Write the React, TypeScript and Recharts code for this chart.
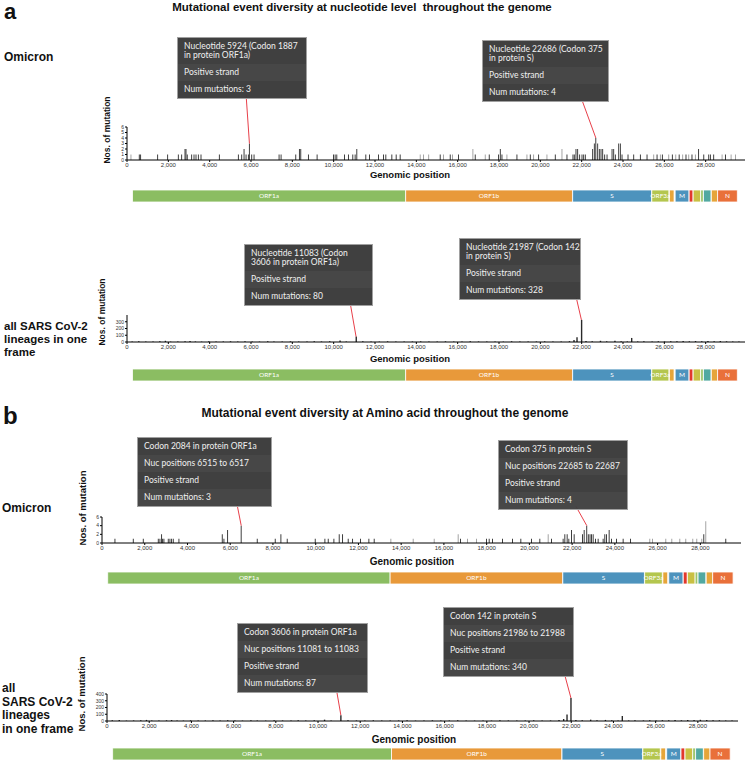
import React from "react";
import { BarChart, Bar, XAxis, YAxis, ReferenceLine, LabelList, Cell } from "recharts";

const GENOME_LENGTH = 29903;
const X_TICKS = [0, 2000, 4000, 6000, 8000, 10000, 12000, 14000, 16000, 18000, 20000, 22000, 24000, 26000, 28000];

const GENES = [
  { name: "ORF1a", start: 266, end: 13483 },
  { name: "ORF1b", start: 13483, end: 21555 },
  { name: "S", start: 21563, end: 25384 },
  { name: "ORF3a", start: 25393, end: 26220 },
  { name: "E", start: 26245, end: 26472 },
  { name: "M", start: 26523, end: 27191 },
  { name: "ORF6", start: 27202, end: 27387 },
  { name: "ORF7a", start: 27394, end: 27756 },
  { name: "ORF7b", start: 27756, end: 27887 },
  { name: "ORF8", start: 27894, end: 28259 },
  { name: "ORF9b", start: 28274, end: 28577 },
  { name: "N", start: 28577, end: 29533 },
];
const GENE_LABELS = ["ORF1a", "ORF1b", "S", "ORF3a", "M", "N"];

const GENE_COLORS: Record<string, string> = {
  ORF1a: "#8bbd62",
  ORF1b: "#e8993a",
  S: "#4d93bd",
  ORF3a: "#b4c64e",
  E: "#e6a53a",
  M: "#4d93bd",
  ORF6: "#e2382c",
  ORF7a: "#c9c043",
  ORF7b: "#9cc56a",
  ORF8: "#52a9a1",
  ORF9b: "#e6a53a",
  N: "#e9703a",
};

// [genomic position, number of mutations]
const omicronNuc: [number, number][] = [
  [194, 1], [597, 1], [661, 1], [1485, 1], [1969, 1], [2486, 1], [2647, 1], [2809, 2], [2857, 2], [2918, 1],
  [3131, 1], [3245, 1], [3341, 1], [3455, 1], [3583, 1], [4471, 1], [5391, 1], [5553, 1], [5666, 2], [5763, 1],
  [5876, 1], [5924, 3], [6037, 1], [6150, 1], [7361, 1], [7458, 1], [8168, 1], [8345, 2], [8410, 2], [8781, 1],
  [9201, 1], [9992, 1], [10073, 1], [10154, 1], [10525, 1], [10717, 1], [10928, 1], [11041, 1], [11122, 2], [11558, 1],
  [11735, 1], [12171, 1], [12413, 1], [12526, 1], [12817, 1], [13027, 1], [13220, 1], [14190, 1], [14350, 1], [14600, 1],
  [15157, 1], [15319, 1], [15642, 1], [15755, 1], [16045, 1], [16739, 2], [16852, 1], [17337, 1], [17530, 1], [17982, 1],
  [18065, 2], [18145, 1], [18385, 1], [18870, 1], [19354, 1], [19516, 1], [19677, 1], [19919, 1], [20322, 1], [20726, 1],
  [21049, 2], [21291, 1], [21582, 1], [21646, 1], [21727, 2], [21808, 2], [21904, 1], [22018, 1], [22099, 1], [22179, 1],
  [22534, 2], [22615, 3], [22686, 4], [22777, 3], [22857, 2], [22938, 2], [23019, 2], [23115, 1], [23230, 1], [23472, 2],
  [23552, 2], [23632, 1], [23794, 3], [23874, 3], [23955, 1], [24245, 1], [24520, 1], [24843, 1], [25165, 1], [25488, 1],
  [25650, 1], [25810, 1], [25907, 1], [26215, 1], [26390, 1], [26555, 1], [26720, 1], [26890, 1], [27050, 1], [27183, 1],
  [27340, 1], [27505, 1], [27660, 2], [27910, 1], [28150, 1], [28230, 1], [28390, 1], [28797, 1], [28959, 1], [29233, 1],
  [29443, 1],
];
// positions drawn in light grey in the reference
const omicronNucLight = [
  194, 14190, 14350, 14600, 15319, 15755, 16739, 17337, 18385, 19354, 19677, 20322, 21049, 25488, 25810,
  26215, 26555, 26890, 27183, 27505, 28797, 29233, 29443,
];

const allNuc: [number, number][] = [
  [240, 8], [560, 10], [900, 6], [1250, 8], [1580, 12], [1850, 18], [2100, 6], [2450, 8], [2800, 10], [3040, 14],
  [3300, 8], [3600, 6], [3950, 10], [4300, 6], [4650, 8], [5000, 10], [5350, 6], [5700, 12], [6050, 8], [6400, 6],
  [6800, 10], [7100, 8], [7500, 6], [7900, 10], [8300, 8], [8700, 6], [9050, 12], [9400, 8], [9800, 10], [10300, 22],
  [10600, 8], [11083, 80], [11400, 10], [11800, 8], [12200, 6], [12600, 10], [13000, 8], [13400, 6], [13800, 8], [14200, 10],
  [14600, 6], [15000, 8], [15400, 10], [15800, 6], [16200, 8], [16600, 10], [17000, 8], [17400, 6], [17800, 8], [18200, 6],
  [18600, 10], [19000, 8], [19400, 6], [19800, 8], [20200, 10], [20600, 6], [21000, 8], [21400, 12], [21620, 28], [21765, 70],
  [21987, 328], [22200, 14], [22500, 10], [22900, 18], [23200, 10], [23600, 20], [23900, 10], [24200, 8], [24410, 60], [24700, 8],
  [25000, 10], [25400, 8], [25700, 10], [26000, 8], [26300, 12], [26600, 10], [26900, 14], [27200, 10], [27500, 14], [27800, 12],
  [28100, 16], [28400, 12], [28700, 14], [29000, 10], [29300, 8], [29600, 6],
];

const omicronAA: [number, number][] = [
  [608, 1], [1466, 1], [1934, 1], [2636, 1], [2713, 1], [2791, 2], [2838, 1], [2900, 1], [3103, 1], [3181, 1],
  [3259, 1], [3337, 1], [3602, 1], [5630, 2], [5708, 1], [5880, 3], [6515, 4], [7267, 1], [8109, 1], [8374, 2],
  [8670, 1], [9981, 1], [10433, 1], [10589, 1], [10854, 1], [11103, 2], [11260, 2], [11524, 1], [11728, 1], [12101, 1],
  [12491, 1], [12740, 1], [13520, 1], [14565, 1], [15548, 1], [16670, 2], [16780, 1], [17108, 1], [17529, 1], [17997, 1],
  [18121, 1], [18277, 1], [18745, 1], [19213, 1], [19602, 1], [20103, 1], [20491, 1], [20882, 2], [21037, 1], [21582, 1],
  [21661, 2], [21770, 2], [21848, 1], [21973, 3], [22098, 2], [22488, 2], [22566, 3], [22686, 4], [22760, 2], [22840, 2],
  [22909, 2], [22987, 2], [23096, 1], [23220, 1], [23454, 1], [23532, 2], [23610, 2], [23735, 3], [23844, 1], [24078, 1],
  [24390, 1], [24733, 1], [25637, 1], [25762, 1], [26386, 1], [26667, 1], [27041, 1], [27321, 1], [27649, 1], [27836, 1],
  [28070, 1], [28164, 2], [28257, 5], [29193, 1],
];
const omicronAALight = [
  13520, 14565, 15548, 16670, 17108, 17529, 20882, 25637, 25762, 26386, 26667, 27041, 27321, 27649, 27836, 28070, 28257,
];

const allAA: [number, number][] = [
  [250, 10], [580, 14], [920, 6], [1260, 8], [1600, 10], [1870, 16], [2120, 6], [2460, 8], [2820, 10], [3060, 14],
  [3320, 8], [3620, 6], [3960, 10], [4320, 6], [4660, 8], [5020, 10], [5360, 6], [5720, 12], [6060, 8], [6420, 6],
  [6820, 10], [7120, 8], [7520, 6], [7920, 10], [8320, 8], [8720, 6], [9060, 12], [9420, 8], [9820, 10], [10310, 20],
  [10620, 8], [11083, 87], [11420, 10], [11820, 8], [12220, 6], [12620, 10], [13020, 8], [13420, 6], [13820, 8], [14220, 10],
  [14620, 6], [15020, 8], [15420, 10], [15820, 6], [16220, 8], [16620, 10], [17020, 8], [17420, 6], [17820, 8], [18220, 6],
  [18620, 10], [19020, 8], [19420, 6], [19820, 8], [20220, 10], [20620, 6], [21020, 8], [21420, 14], [21640, 30], [21800, 95],
  [21987, 340], [22220, 14], [22520, 10], [22920, 20], [23220, 10], [23620, 16], [23920, 10], [24220, 8], [24420, 74], [24720, 8],
  [25020, 10], [25420, 8], [25720, 10], [26020, 8], [26320, 12], [26620, 10], [26920, 14], [27220, 10], [27520, 16], [27820, 14],
  [28120, 18], [28420, 14], [28720, 12], [29020, 10], [29320, 8], [29620, 6],
];

const toRows = (pairs: [number, number][], light: number[] = []) =>
  pairs.map(([pos, count]) => ({ pos, count, light: light.includes(pos) }));

const genomeRow = (() => {
  const row: Record<string, number | string> = { id: "genome" };
  let prev = 0;
  GENES.forEach((g, i) => {
    row[`gap${i}`] = Math.max(0, g.start - prev);
    row[g.name] = g.end - g.start;
    prev = g.end;
  });
  return [row];
})();

const fmt = (v: number) => v.toLocaleString("en-US");
const FONT = "'Liberation Sans', Arial, sans-serif";

function GeneLabel(props: any) {
  const { x, y, width, height, name } = props;
  if (width < 8) return null;
  return (
    <text x={x + width / 2} y={y + height / 2} dy="0.35em" textAnchor="middle" fill="#fff" fontSize={6.5} fontFamily="Lato, sans-serif">
      {name}
    </text>
  );
}

function GenomeMap({ top, plotLeft, plotRight }: { top: number; plotLeft: number; plotRight: number }) {
  return (
    <div style={{ position: "absolute", left: 0, top }}>
      <BarChart
        width={746}
        height={12}
        data={genomeRow}
        layout="vertical"
        barCategoryGap={0}
        margin={{ top: 0, right: 746 - plotRight, bottom: 0, left: plotLeft }}
      >
        <XAxis type="number" domain={[0, GENOME_LENGTH]} hide allowDataOverflow />
        <YAxis type="category" dataKey="id" hide />
        {GENES.flatMap((g, i) => [
          <Bar key={`gap${i}`} dataKey={`gap${i}`} stackId="g" fill="transparent" isAnimationActive={false} />,
          <Bar
            key={g.name}
            dataKey={g.name}
            stackId="g"
            fill={GENE_COLORS[g.name]}
            stroke="#fff"
            strokeWidth={0.8}
            isAnimationActive={false}
          >
            {GENE_LABELS.includes(g.name) && (
              <LabelList dataKey={g.name} content={(p: any) => <GeneLabel {...p} name={g.name} />} />
            )}
          </Bar>,
        ])}
      </BarChart>
    </div>
  );
}

type Segment = [[number, number], [number, number]];

function MutationChart({
  data,
  light,
  top,
  marginTop,
  plotHeight,
  plotLeft,
  plotRight,
  yDomain,
  yTicks,
  pointers,
}: {
  data: [number, number][];
  light?: number[];
  top: number;
  marginTop: number;
  plotHeight: number;
  plotLeft: number;
  plotRight: number;
  yDomain: [number, number];
  yTicks: number[];
  pointers: Segment[];
}) {
  const axisH = 14;
  const yAxisW = 12;
  const rows = toRows(data, light);
  return (
    <div style={{ position: "absolute", left: 0, top }}>
      <BarChart
        width={746}
        height={marginTop + plotHeight + axisH}
        data={rows}
        margin={{ top: marginTop, right: 746 - plotRight, bottom: 0, left: plotLeft - yAxisW }}
      >
        <XAxis
          type="number"
          dataKey="pos"
          domain={[0, GENOME_LENGTH]}
          ticks={X_TICKS}
          interval={0}
          tickFormatter={fmt}
          height={axisH}
          tick={{ fontSize: 6, fill: "#333", fontFamily: FONT }}
          tickSize={2}
          tickMargin={1}
          stroke="#000"
          allowDataOverflow
        />
        <YAxis
          type="number"
          domain={yDomain}
          ticks={yTicks}
          interval={0}
          width={yAxisW}
          tick={{ fontSize: 5, fill: "#333", fontFamily: FONT }}
          tickSize={2}
          tickMargin={1}
          stroke="#000"
          allowDataOverflow
        />
        <Bar dataKey="count" barSize={1.4} isAnimationActive={false}>
          {rows.map((r) => (
            <Cell key={r.pos} fill={r.light ? "#9a9a9a" : "#2a2a2a"} />
          ))}
        </Bar>
        {pointers.map((seg, i) => (
          <ReferenceLine
            key={i}
            segment={[{ x: seg[0][0], y: seg[0][1] }, { x: seg[1][0], y: seg[1][1] }]}
            stroke="#e8404a"
            strokeWidth={1}
            ifOverflow="visible"
          />
        ))}
      </BarChart>
    </div>
  );
}

function Callout({ left, top, width, rows }: { left: number; top: number; width: number; rows: string[][] }) {
  return (
    <div
      style={{
        position: "absolute",
        left,
        top,
        width,
        background: "rgba(56,56,56,0.96)",
        border: "1px solid #a0a0a0",
        color: "#f0f0f0",
        fontFamily: "Lato, sans-serif",
        fontSize: 8.5,
        lineHeight: "9px",
        boxSizing: "border-box",
        zIndex: 2,
      }}
    >
      {rows.map((r, i) => (
        <div key={i} style={{ padding: "4px 6px", background: i % 2 ? "rgba(255,255,255,0.04)" : "transparent" }}>
          {r.map((line, j) => (
            <div key={j} style={{ whiteSpace: "nowrap" }}>{line}</div>
          ))}
        </div>
      ))}
    </div>
  );
}

function Text({ x, y, size, children, bold = true, center = false, lh }: any) {
  return (
    <div
      style={{
        position: "absolute",
        left: x,
        top: y,
        fontSize: size,
        fontWeight: bold ? 700 : 400,
        fontFamily: FONT,
        color: "#111",
        lineHeight: lh ? `${lh}px` : "1",
        whiteSpace: "nowrap",
        transform: center ? "translateX(-50%)" : undefined,
      }}
    >
      {children}
    </div>
  );
}

function YLabel({ cx, cy, size }: { cx: number; cy: number; size: number }) {
  return (
    <div
      style={{
        position: "absolute",
        left: cx,
        top: cy,
        transform: "translate(-50%, -50%) rotate(-90deg)",
        fontSize: size,
        fontWeight: 700,
        fontFamily: FONT,
        color: "#111",
        whiteSpace: "nowrap",
        lineHeight: "1",
      }}
    >
      Nos. of mutation
    </div>
  );
}

export default function App() {
  return (
    <div style={{ position: "absolute", left: 0, top: 0, width: 746, height: 763, background: "#fff", overflow: "hidden" }}>
      {/* panel a */}
      <Text x={4} y={1} size={22}>a</Text>
      <Text x={362} y={2} size={11.5} center>Mutational event diversity at nucleotide level&nbsp; throughout the genome</Text>
      <Text x={4} y={51} size={12}>Omicron</Text>
      <YLabel cx={107} cy={130} size={8.5} />
      <MutationChart
        data={omicronNuc}
        light={omicronNucLight}
        top={90}
        marginTop={37}
        plotHeight={33}
        plotLeft={127}
        plotRight={745}
        yDomain={[0, 6]}
        yTicks={[0, 1, 2, 3, 4, 5, 6]}
        pointers={[
          [[5924, 3], [5763, 11.8]],
          [[22686, 4], [22034, 10.7]],
        ]}
      />
      <Text x={410} y={170} size={9.5} center>Genomic position</Text>
      <GenomeMap top={190} plotLeft={127} plotRight={745} />
      <Callout left={177} top={37} width={130} rows={[["Nucleotide 5924 (Codon 1887", "in protein ORF1a)"], ["Positive strand"], ["Num mutations: 3"]]} />
      <Callout left={482} top={40} width={127} rows={[["Nucleotide 22686 (Codon 375", "in protein S)"], ["Positive strand"], ["Num mutations: 4"]]} />

      <Text x={4} y={320} size={11.5} lh={13}>all SARS CoV-2<br />lineages in one<br />frame</Text>
      <YLabel cx={102} cy={312} size={8.5} />
      <MutationChart
        data={allNuc}
        top={290}
        marginTop={25}
        plotHeight={27}
        plotLeft={127}
        plotRight={745}
        yDomain={[0, 400]}
        yTicks={[0, 100, 200, 300]}
        pointers={[
          [[11083, 80], [10799, 578]],
          [[21987, 328], [21743, 652]],
        ]}
      />
      <Text x={410} y={354} size={9.5} center>Genomic position</Text>
      <GenomeMap top={369} plotLeft={127} plotRight={745} />
      <Callout left={244} top={244} width={129} rows={[["Nucleotide 11083 (Codon", "3606 in protein ORF1a)"], ["Positive strand"], ["Num mutations: 80"]]} />
      <Callout left={459} top={238} width={122} rows={[["Nucleotide 21987 (Codon 142", "in protein S)"], ["Positive strand"], ["Num mutations: 328"]]} />

      {/* panel b */}
      <Text x={3} y={404} size={24}>b</Text>
      <Text x={385} y={407} size={12} center>Mutational event diversity at Amino acid throughout the genome</Text>
      <Text x={2} y={502} size={12}>Omicron</Text>
      <YLabel cx={83} cy={508} size={9.5} />
      <MutationChart
        data={omicronAA}
        light={omicronAALight}
        top={498}
        marginTop={19}
        plotHeight={26}
        plotLeft={102}
        plotRight={741}
        yDomain={[0, 6]}
        yTicks={[0, 2, 4, 6]}
        pointers={[
          [[6515, 4], [6316, 9.0]],
          [[22686, 4], [22175, 8.5]],
        ]}
      />
      <Text x={412} y={557} size={10} center>Genomic position</Text>
      <GenomeMap top={572} plotLeft={102} plotRight={741} />
      <Callout left={137} top={437} width={135} rows={[["Codon 2084 in protein ORF1a"], ["Nuc positions 6515 to 6517"], ["Positive strand"], ["Num mutations: 3"]]} />
      <Callout left={498} top={440} width={130} rows={[["Codon 375 in protein S"], ["Nuc positions 22685 to 22687"], ["Positive strand"], ["Num mutations: 4"]]} />

      <Text x={2} y={682} size={12} lh={13.5}>all<br />SARS CoV-2<br />lineages<br />in one frame</Text>
      <YLabel cx={82} cy={694} size={9.5} />
      <MutationChart
        data={allAA}
        top={670}
        marginTop={24}
        plotHeight={27}
        plotLeft={107}
        plotRight={738}
        yDomain={[0, 400]}
        yTicks={[0, 100, 200, 300, 400]}
        pointers={[
          [[11083, 87], [10900, 415]],
          [[21987, 340], [21706, 667]],
        ]}
      />
      <Text x={414} y={735} size={10} center>Genomic position</Text>
      <GenomeMap top={748} plotLeft={107} plotRight={738} />
      <Callout left={237} top={623} width={131} rows={[["Codon 3606 in protein ORF1a"], ["Nuc positions 11081 to 11083"], ["Positive strand"], ["Num mutations: 87"]]} />
      <Callout left={443} top={607} width={131} rows={[["Codon 142 in protein S"], ["Nuc positions 21986 to 21988"], ["Positive strand"], ["Num mutations: 340"]]} />
    </div>
  );
}
